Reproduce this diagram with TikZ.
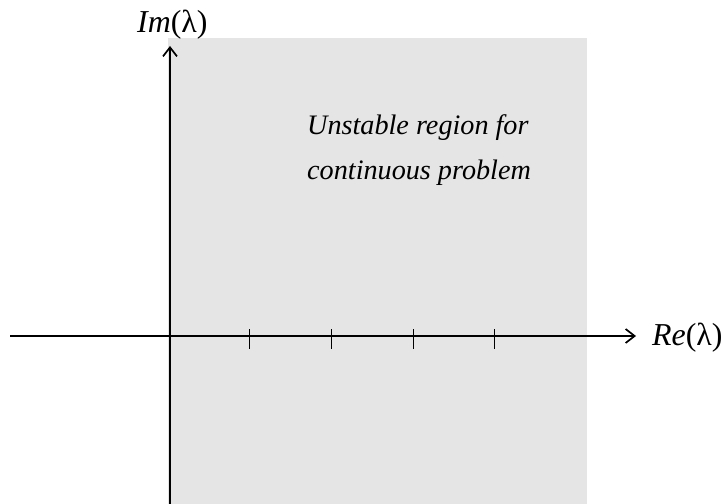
\documentclass[tikz,border=0pt]{standalone}
\usepackage{fontspec}
\setmainfont{Liberation Serif}
\usetikzlibrary{arrows.meta}
\definecolor{regiongray}{RGB}{229,229,229}
\tikzset{
  axis/.style={line width=2bp, -{Straight Barb[length=9bp,width=14bp,line width=1.7bp]}},
  tickmark/.style={line width=1bp},
  axlabel/.style={inner sep=0pt, font=\fontsize{32}{36}\selectfont},
  regiontext/.style={inner sep=0pt, anchor=base west, font=\fontsize{28.3}{34}\selectfont\itshape}
}
\begin{document}
\begin{tikzpicture}[x=1bp,y=-1bp]
\useasboundingbox (0,0) rectangle (723,504);
\fill[regiongray] (168,38) rectangle (587,504);
\coordinate (hstart) at (10,336);
\coordinate (hend) at (636,336);
\coordinate (vstart) at (170,504);
\coordinate (vend) at (170,46);
\draw[axis] (hstart) -- (hend);
\draw[axis] (vstart) -- (vend);
\foreach \x/\n in {249.5/a,331.5/b,413.5/c,494.5/d}{
  \coordinate (t\n1) at (\x,329);
  \coordinate (t\n2) at (\x,349);
  \draw[tickmark] (t\n1) -- (t\n2);
}
\node[axlabel, anchor=base west] (relabel) at (652,345) {\textit{Re}(λ)};
\node[axlabel, anchor=base west] (imlabel) at (137,33) {\textit{Im}(λ)};
\node[regiontext] (line1) at (307,135) {Unstable region for};
\node[regiontext] (line2) at (307,180) {continuous problem};
\end{tikzpicture}
\end{document}
